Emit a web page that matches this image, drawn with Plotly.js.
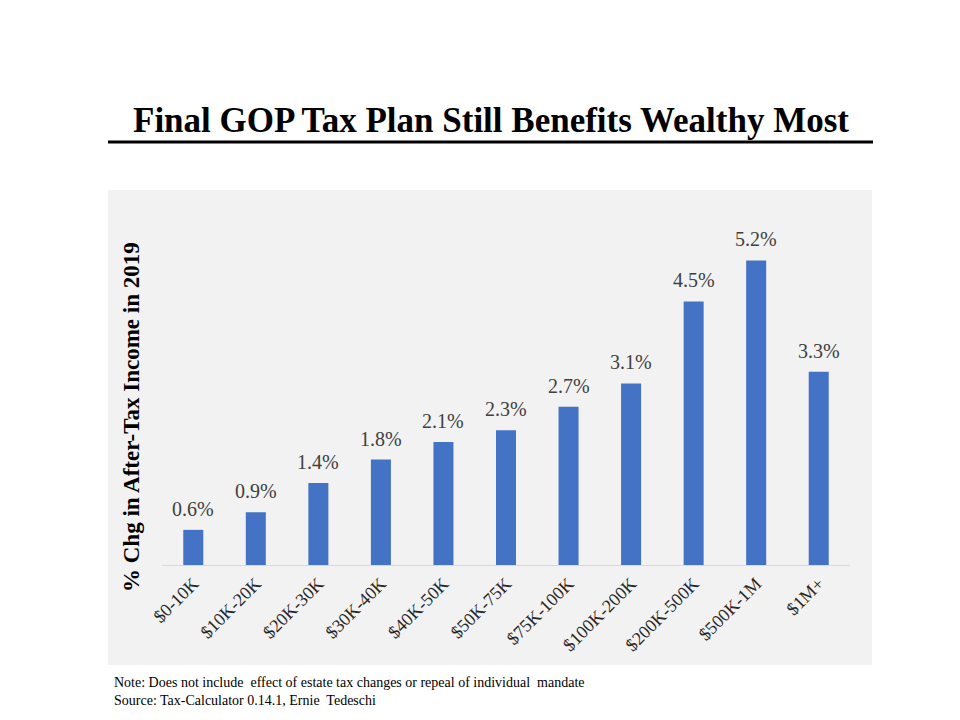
<!DOCTYPE html>
<html>
<head>
<meta charset="utf-8">
<script src="https://cdn.plot.ly/plotly-3.0.1.min.js"></script>
<style>html,body{margin:0;padding:0;background:#fff;}#chart{width:960px;height:720px;}</style>
</head>
<body>
<div id="chart"></div>
<script>
const categories = ["$0-10K","$10K-20K","$20K-30K","$30K-40K","$40K-50K","$50K-75K","$75K-100K","$100K-200K","$200K-500K","$500K-1M","$1M+"];
const values = [0.6, 0.9, 1.4, 1.8, 2.1, 2.3, 2.7, 3.1, 4.5, 5.2, 3.3];
const valueLabels = ["0.6%","0.9%","1.4%","1.8%","2.1%","2.3%","2.7%","3.1%","4.5%","5.2%","3.3%"];

const L = 162, R = 850, T = 237, B = 565, W = 960, H = 720;
const pw = R - L, ph = B - T;
const px = x => (x - L) / pw;
const py = y => (B - y) / ph;
const serif = "Liberation Serif";

const annotations = categories.map((c, i) => ({
  x: c, y: values[i], xref: 'x', yref: 'y', text: valueLabels[i],
  showarrow: false, yanchor: 'bottom', yshift: 8,
  font: {family: serif, size: 20, color: '#404040'}
}));
annotations.push({
  xref: 'paper', yref: 'paper', x: px(131), y: py(417), textangle: -90,
  text: '<b>% Chg in After-Tax Income in 2019</b>', showarrow: false,
  xanchor: 'center', yanchor: 'middle',
  font: {family: serif, size: 23, color: '#000'}
});
annotations.push({
  xref: 'paper', yref: 'paper', x: px(491), y: py(120),
  text: '<b>Final GOP Tax Plan Still Benefits Wealthy Most</b>', showarrow: false,
  xanchor: 'center', yanchor: 'middle',
  font: {family: serif, size: 35, color: '#000'}
});
annotations.push({
  xref: 'paper', yref: 'paper', x: px(112), y: py(691),
  text: 'Note: Does not include  effect of estate tax changes or repeal of individual  mandate<br>Source: Tax-Calculator 0.14.1, Ernie  Tedeschi',
  showarrow: false, xanchor: 'left', yanchor: 'middle', align: 'left',
  font: {family: serif, size: 14, color: '#000'}
});

const shapes = [
  {type: 'rect', xref: 'paper', yref: 'paper', x0: px(108), x1: px(872), y0: py(665), y1: py(190),
   fillcolor: '#f2f2f2', line: {width: 0}, layer: 'below'},
  {type: 'line', xref: 'paper', yref: 'paper', x0: px(108), x1: px(873), y0: py(142), y1: py(142),
   line: {color: '#000', width: 3}}
];

const data = [{
  type: 'bar', x: categories, y: values,
  marker: {color: '#4472c4'}, hoverinfo: 'none'
}];

const layout = {
  width: W, height: H,
  margin: {l: L, r: W - R, t: T, b: H - B},
  paper_bgcolor: '#ffffff', plot_bgcolor: 'rgba(0,0,0,0)',
  showlegend: false, bargap: 0.68,
  xaxis: {
    type: 'category', tickangle: -45, showline: true, linecolor: '#d9d9d9', linewidth: 1,
    ticks: '', showgrid: false, zeroline: false,
    tickfont: {family: serif, size: 18, color: '#262626'}
  },
  yaxis: {
    range: [0, 5.6], visible: false, showgrid: false, zeroline: false
  },
  annotations: annotations,
  shapes: shapes
};

Plotly.newPlot('chart', data, layout, {displayModeBar: false, staticPlot: true});
</script>
</body>
</html>
